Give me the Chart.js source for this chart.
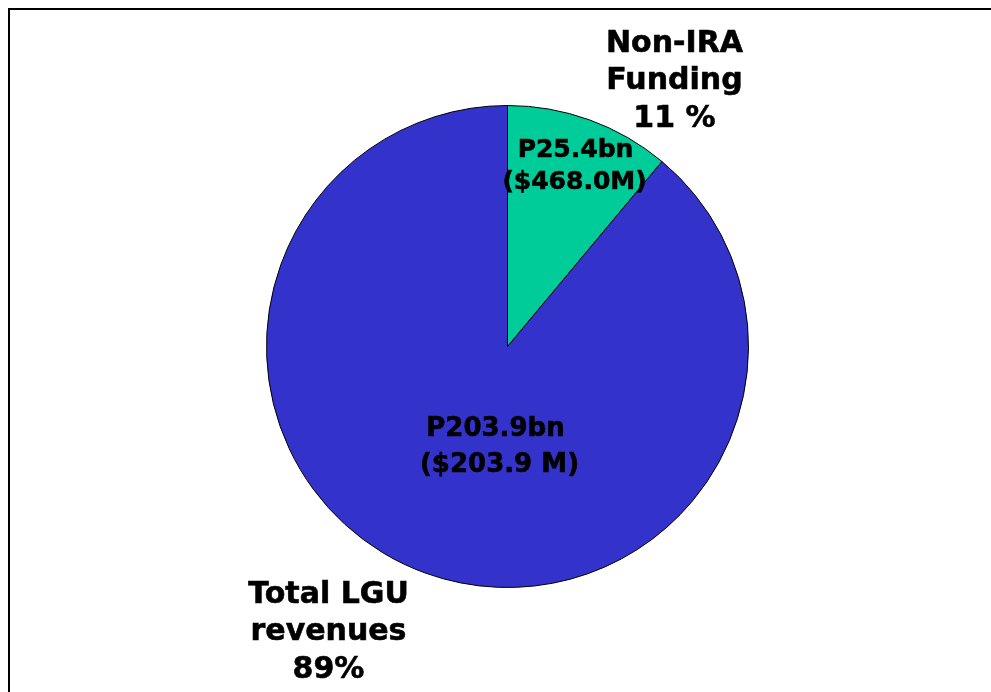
<!DOCTYPE html>
<html>
<head>
<meta charset="utf-8">
<script src="https://cdn.jsdelivr.net/npm/chart.js@4"></script>
<style>
  html, body { margin: 0; padding: 0; background: #fff; overflow: hidden; }
  #wrap { position: relative; width: 991px; height: 692px; }
  #frame { position: absolute; left: 8px; top: 8px; width: 1100px; height: 800px; border: 2px solid #000; }
  canvas { position: absolute; left: 0; top: 0; }
</style>
</head>
<body>
<div id="wrap">
  <div id="frame"></div>
  <canvas id="myChart" width="991" height="692"></canvas>
</div>
<script>
const categories = ['Non-IRA Funding', 'Total LGU revenues'];
const pesoBn = [25.4, 203.9];
const pesoLabels = ['P25.4bn', 'P203.9bn'];
const usdLabels = ['($468.0M)', '($203.9 M)'];
const pctLabels = ['11 %', '89%'];
const colors = ['#00CC99', '#3333CC'];

const font = '"DejaVu Sans", Verdana, sans-serif';

// text labels drawn on top of the pie
const labelPlugin = {
    id: 'labels',
    afterDraw(chart) {
        const ctx = chart.ctx;
        const arcs = chart.getDatasetMeta(0).data;
        const cx = arcs[0].x, cy = arcs[0].y;
        ctx.save();
        ctx.fillStyle = '#000';
        ctx.strokeStyle = '#000';
        ctx.lineWidth = 0.6;
        ctx.textAlign = 'center';
        ctx.textBaseline = 'alphabetic';
        const put = (t, x, y) => { ctx.fillText(t, x, y); ctx.strokeText(t, x, y); };

        // outer labels
        ctx.font = 'bold 30px ' + font;
        const outer = [
            { x: cx + 167, y: cy - 295, lines: ['Non-IRA', 'Funding', pctLabels[0]] },
            { x: cx - 179, y: cy + 256, lines: ['Total LGU', 'revenues', pctLabels[1]] }
        ];
        outer.forEach(o => {
            o.lines.forEach((t, i) => put(t, o.x, o.y + i * 37.5));
        });

        // inner value labels
        ctx.font = 'bold 25px ' + font;
        put(pesoLabels[0], cx + 68, cy - 190);
        put(usdLabels[0], cx + 67, cy - 158);
        ctx.font = 'bold 26px ' + font;
        put(pesoLabels[1], cx - 12, cy + 89);
        put(usdLabels[1], cx - 8, cy + 125);
        ctx.restore();
    }
};

const data = {
    labels: categories,
    datasets: [{
        data: pesoBn,
        backgroundColor: colors,
        borderColor: '#000',
        borderWidth: 1
    }]
};

const config = {
    type: 'pie',
    data: data,
    options: {
        responsive: false,
        animation: false,
        radius: 241,
        layout: { padding: { left: 24, right: 0, top: 105, bottom: 104 } },
        plugins: {
            legend: { display: false },
            tooltip: { enabled: false }
        }
    },
    plugins: [labelPlugin]
};

const myChart = new Chart(document.getElementById('myChart'), config);
</script>
</body>
</html>
